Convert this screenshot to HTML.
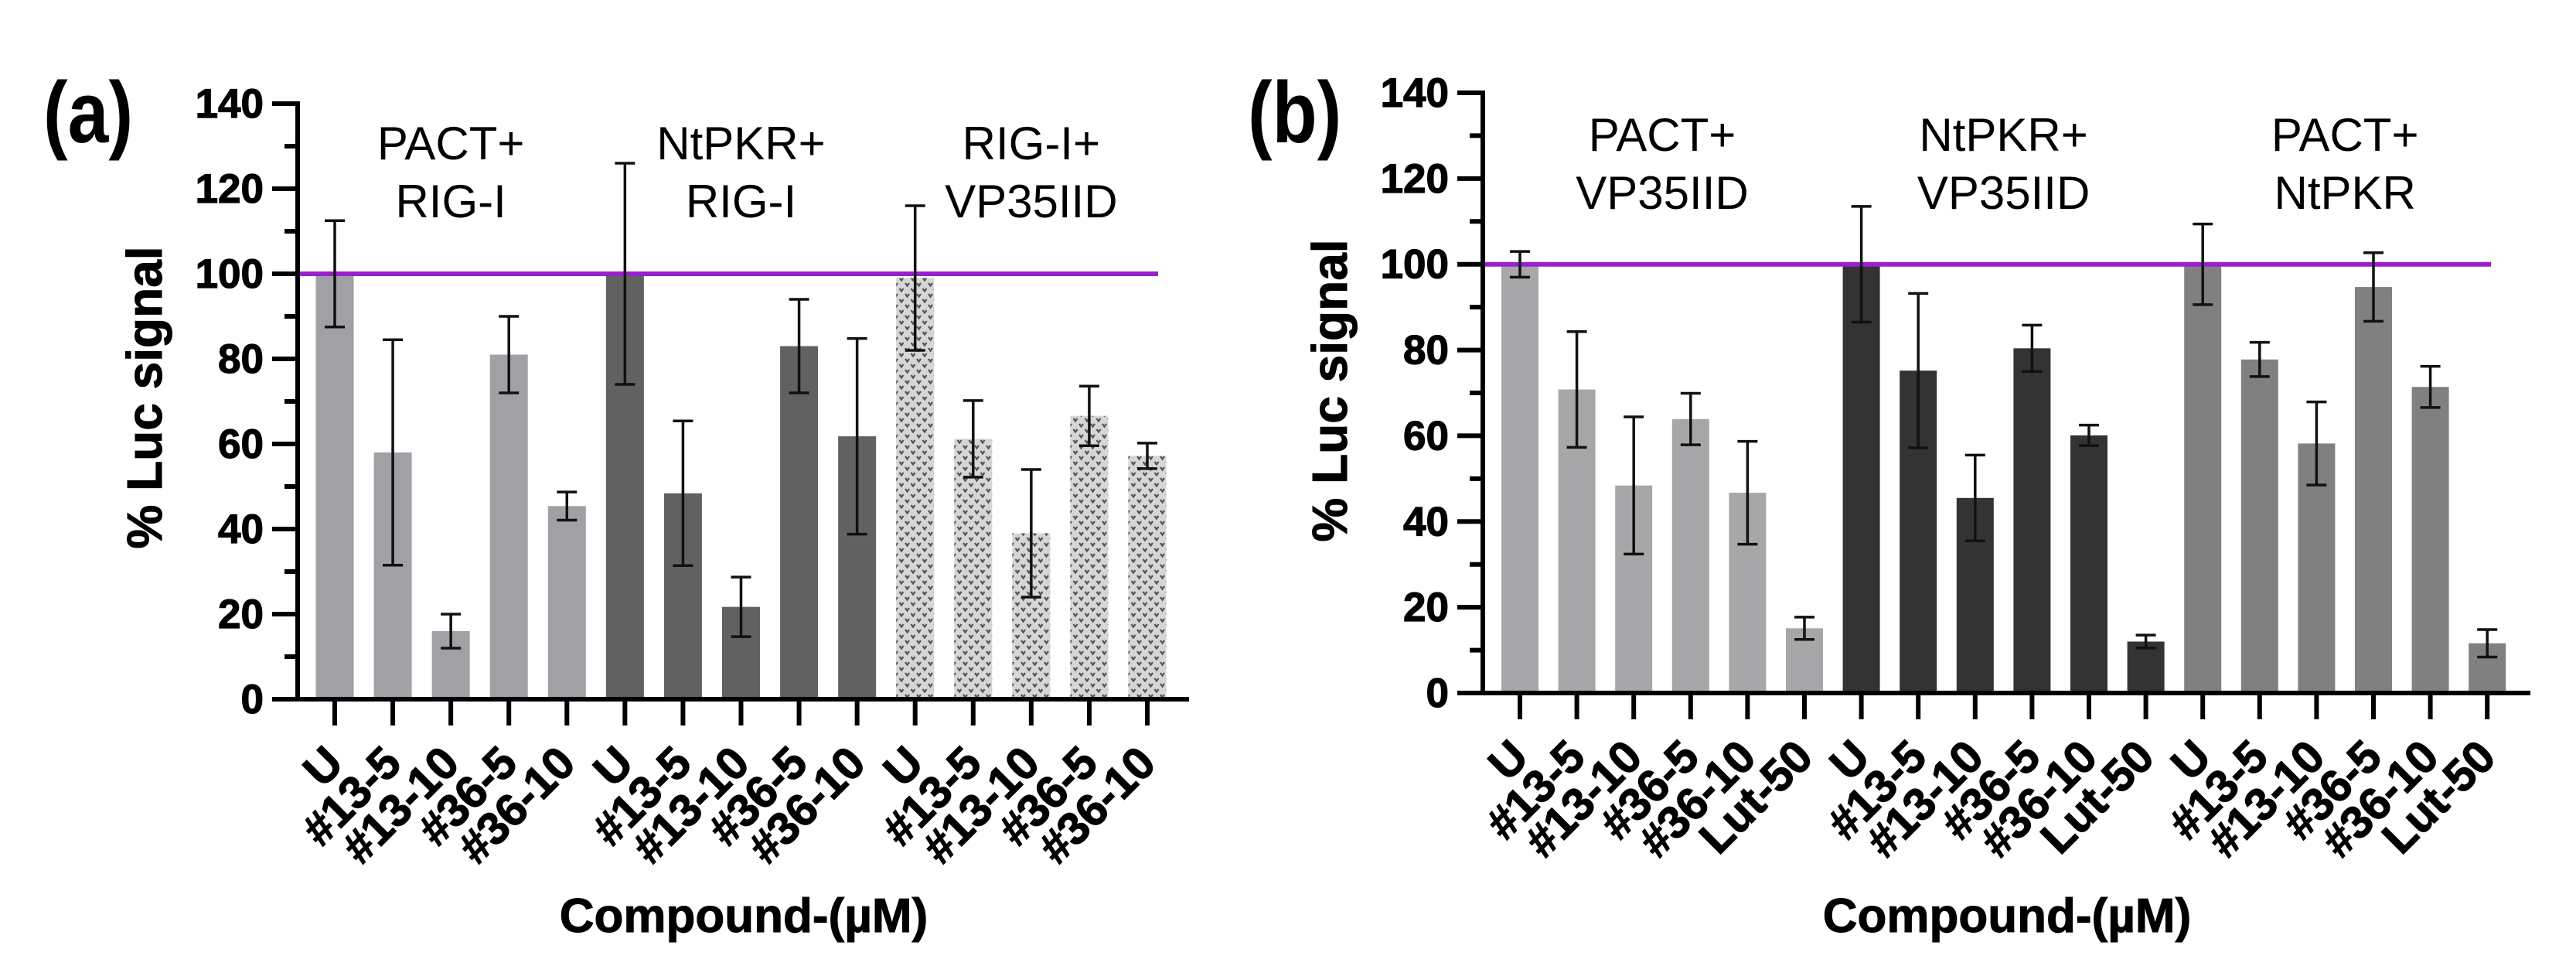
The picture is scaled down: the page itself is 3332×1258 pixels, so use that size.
<!DOCTYPE html>
<html><head><meta charset="utf-8">
<style>
html,body{margin:0;padding:0;background:#fff;}
svg{display:block;}
text{font-family:"Liberation Sans",Arial,sans-serif;}
</style></head>
<body>
<svg id="fig" width="3332" height="1258" viewBox="0 0 3332 1258" xmlns="http://www.w3.org/2000/svg">
<defs>
<pattern id="vpat" width="15" height="14" patternUnits="userSpaceOnUse">
<rect width="15" height="14" fill="#d6d6d6"/>
<path d="M1,2 L3.5,5.5 L6,2 M8.5,9 L11,12.5 L13.5,9" stroke="#555" stroke-width="2.3" fill="none"/>
</pattern>
</defs>
<g id="panelA"></g>
<g id="panelB"></g>
</svg>
<script>
// ---------- Panel (a) data ----------
const aCategories = ["U","#13-5","#13-10","#36-5","#36-10","U","#13-5","#13-10","#36-5","#36-10","U","#13-5","#13-10","#36-5","#36-10"];
const aGroupOf = [0,0,0,0,0,1,1,1,1,1,2,2,2,2,2];
const aValues = [100,58,16,81,45.4, 100,48.4,21.7,83,61.8, 99,61.2,39,66.6,57.2];
const aErrors = [12.5,26.5,4,9,3.3, 26,17,7,11,23, 17,9,15,7,3];
const aGroupLabels = [["PACT+","RIG-I"],["NtPKR+","RIG-I"],["RIG-I+","VP35IID"]];
// ---------- Panel (b) data ----------
const bCategories = ["U","#13-5","#13-10","#36-5","#36-10","Lut-50","U","#13-5","#13-10","#36-5","#36-10","Lut-50","U","#13-5","#13-10","#36-5","#36-10","Lut-50"];
const bGroupOf = [0,0,0,0,0,0,1,1,1,1,1,1,2,2,2,2,2,2];
const bValues = [100,70.8,48.4,63.9,46.7,15.1, 100,75.2,45.5,80.4,60.1,12, 100,77.8,58.2,94.7,71.4,11.6];
const bErrors = [3,13.5,16,6,12,2.6, 13.5,18,10,5.4,2.4,1.5, 9.4,4,9.7,8,4.8,3.2];
const bGroupLabels = [["PACT+","VP35IID"],["NtPKR+","VP35IID"],["PACT+","NtPKR"]];
// shared axis
const yTicks = [0,20,40,60,80,100,120,140];
const yMinorTicks = [10,30,50,70,90,110,130];
const refValue = 100;

const NS = "http://www.w3.org/2000/svg";
function mk(tag, attrs, parent){
  const e = document.createElementNS(NS, tag);
  for (const k in attrs) e.setAttribute(k, attrs[k]);
  parent.appendChild(e);
  return e;
}

function drawPanel(g, cfg){
  const yScale = v => cfg.y0 - v * (cfg.y0 - cfg.y140) / 140;
  const xScale = i => cfg.x0 + i * cfg.step;
  const n = cfg.cats.length;

  // panel letter
  const lt = mk("text", {x: 0, y: 0, "font-size": 100, "font-weight": "bold", fill: "#000", transform: "translate(" + cfg.letterX + ",184) scale(0.95,1.12)"}, g);
  lt.textContent = cfg.letter;
  
  

  // bars
  for (let i = 0; i < n; i++){
    const v = cfg.vals[i];
    const r = mk("rect", {x: xScale(i) - cfg.bw/2, y: yScale(v), width: cfg.bw, height: yScale(0) - yScale(v), fill: cfg.colors[cfg.groupOf[i]]}, g);
    
    
  }
  // reference line
  const rl = mk("line", {x1: cfg.refX1, x2: cfg.refX2, y1: yScale(refValue), y2: yScale(refValue), stroke: "#9b1fd0", "stroke-width": 6}, g);
  
  
  // error bars
  for (let i = 0; i < n; i++){
    const v = cfg.vals[i], e = cfg.errs[i], cx = xScale(i);
    const eg = mk("g", {stroke: "#111", "stroke-width": 3.5}, g);
    
    
    mk("line", {x1: cx, x2: cx, y1: yScale(v + e), y2: yScale(v - e)}, eg);
    mk("line", {x1: cx - 13, x2: cx + 13, y1: yScale(v + e), y2: yScale(v + e)}, eg);
    mk("line", {x1: cx - 13, x2: cx + 13, y1: yScale(v - e), y2: yScale(v - e)}, eg);
  }
  // y axis
  const ya = mk("g", {stroke: "#000", "stroke-width": 6}, g);
  
  
  mk("line", {x1: cfg.axisX, x2: cfg.axisX, y1: yScale(140) - 3, y2: yScale(0) + 3}, ya);
  yTicks.forEach(t => {
    mk("line", {x1: cfg.axisX - 33, x2: cfg.axisX, y1: yScale(t), y2: yScale(t)}, ya);
    const tl = mk("text", {x: cfg.axisX - 44, y: yScale(t) + 18, "font-size": 53, "font-weight": "bold", "text-anchor": "end", fill: "#000", stroke: "#000", "stroke-width": 1.2}, g);
    tl.textContent = t;
    
    
  });
  yMinorTicks.forEach(t => {
    mk("line", {x1: cfg.axisX - 17, x2: cfg.axisX, y1: yScale(t), y2: yScale(t)}, ya);
  });
  // x axis
  const xa = mk("g", {stroke: "#000", "stroke-width": 6}, g);
  
  
  mk("line", {x1: cfg.axisX - 33, x2: cfg.axisEnd, y1: yScale(0), y2: yScale(0)}, xa);
  for (let i = 0; i < n; i++){
    mk("line", {x1: xScale(i), x2: xScale(i), y1: yScale(0), y2: yScale(0) + 34}, xa);
    const ex = xScale(i) + 14, ey = yScale(0) + 86;
    const cl = mk("text", {x: ex, y: ey, "font-size": 59, "font-weight": "bold", "text-anchor": "end", transform: "rotate(-45 " + ex + " " + ey + ")", fill: "#000", stroke: "#000", "stroke-width": 1.2}, g);
    cl.textContent = cfg.cats[i];
    
    
  }
  // group labels
  cfg.glabels.forEach((lines, gi) => {
    const idx = cfg.groupOf.map((gg, k) => gg === gi ? k : -1).filter(k => k >= 0);
    const cx = (xScale(idx[0]) + xScale(idx[idx.length - 1])) / 2;
    lines.forEach((ln, li) => {
      const t = mk("text", {x: cx, y: cfg.glabelY + li * 75, "font-size": 60, "text-anchor": "middle", fill: "#000"}, g);
      t.textContent = ln;
      
      
    });
  });
  // axis titles
  const yt = mk("text", {x: cfg.yTitleX, y: cfg.yTitleY, "font-size": 64, "font-weight": "bold", "text-anchor": "middle", transform: "rotate(-90 " + cfg.yTitleX + " " + cfg.yTitleY + ")", fill: "#000", stroke: "#000", "stroke-width": 1}, g);
  yt.textContent = "% Luc signal";
  
  
  const xt = mk("text", {x: cfg.xTitleX, y: 1205, "font-size": 62, "font-weight": "bold", "text-anchor": "middle", fill: "#000", stroke: "#000", "stroke-width": 1}, g);
  xt.textContent = "Compound-(\u00B5M)";
  
  
}

drawPanel(document.getElementById("panelA"), {
  letter: "(a)", letterX: 56,
  cats: aCategories, groupOf: aGroupOf, vals: aValues, errs: aErrors, glabels: aGroupLabels,
  colors: ["#a1a1a5", "#616161", "url(#vpat)"],
  x0: 433, step: 75.07, bw: 49, y0: 904, y140: 134,
  axisX: 385, axisEnd: 1538, refX1: 388, refX2: 1498,
  glabelY: 206, yTitleX: 209, yTitleY: 514, xTitleX: 962
});
drawPanel(document.getElementById("panelB"), {
  letter: "(b)", letterX: 1614,
  cats: bCategories, groupOf: bGroupOf, vals: bValues, errs: bErrors, glabels: bGroupLabels,
  colors: ["#a7a7a9", "#333333", "#808080"],
  x0: 1966, step: 73.6, bw: 48, y0: 896, y140: 120,
  axisX: 1918, axisEnd: 3273, refX1: 1921, refX2: 3222,
  glabelY: 195, yTitleX: 1742, yTitleY: 505, xTitleX: 2596
});
</script>
</body></html>
